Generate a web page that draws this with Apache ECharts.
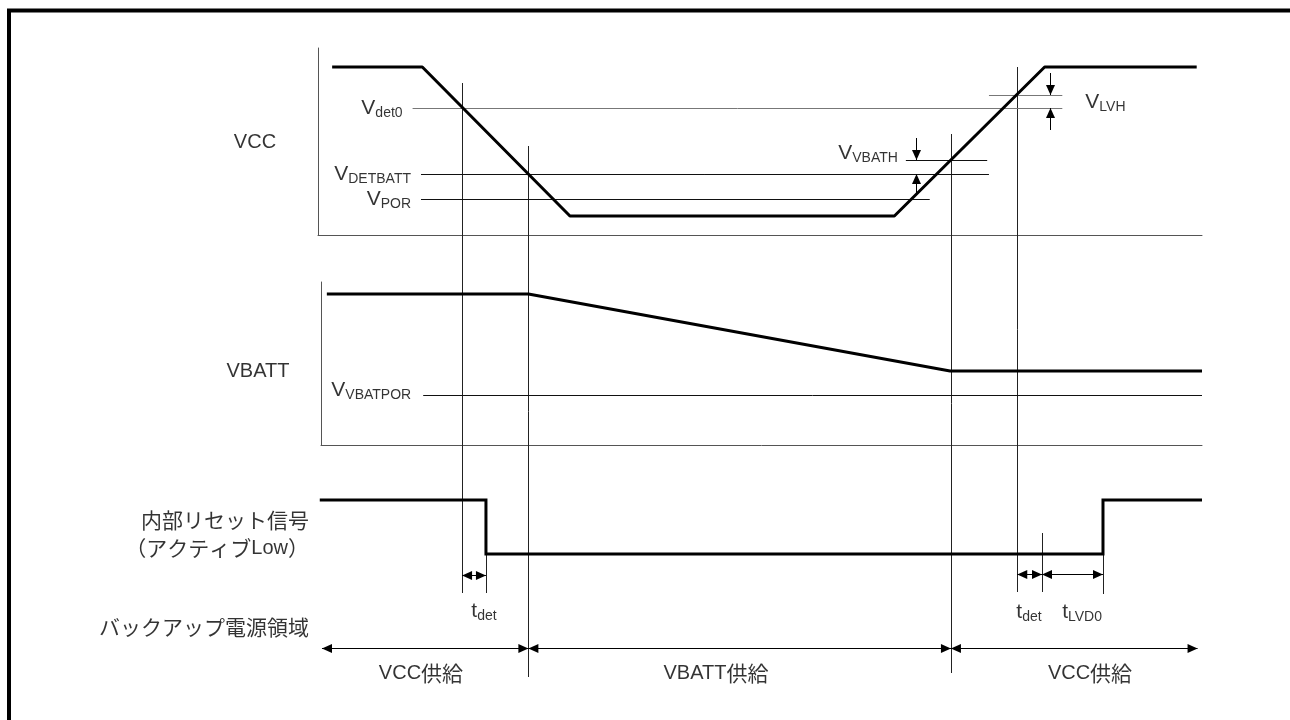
<!DOCTYPE html>
<html><head><meta charset="utf-8">
<script src="https://cdn.jsdelivr.net/npm/echarts@6/dist/echarts.min.js"></script>
<style>html,body{margin:0;padding:0;background:#fff}#c{width:1290px;height:720px}</style>
</head><body><div id="c"></div>
<script>
// ---------------- data (time: arbitrary units 0..100, voltages: arbitrary units) ----------------
const vccWave   = [[1.6,3.36],[11.8,3.36],[28.5,0.38],[65.2,0.38],[82.2,3.36],[99.4,3.36]];
const vbattWave = [[1.0,3.02],[23.8,3.02],[71.5,1.48],[100,1.48]];
const resetWave = [[0.2,1],[19.0,1],[19.0,0],[88.8,0],[88.8,1],[100,1]];

// horizontal threshold levels [tStart, tEnd, level]
const vccLevelsGrey  = [[10.7,84.2,2.54],[75.9,84.2,2.80]];          // Vdet0, Vdet0+VLVH
const vccLevelsBlack = [[11.65,75.9,1.22],[66.5,75.7,1.50],[11.65,69.2,0.72]]; // VDETBATT, +VVBATH, VPOR
const vbattLevels    = [[11.9,100,1.0]];                               // VVBATPOR
// hysteresis arrows [t1, v1, t2, v2] (head at t2,v2)
const vccArrows = [[82.8,3.24,82.8,2.80],[82.8,2.10,82.8,2.54],[67.6,1.94,67.6,1.50],[67.6,0.84,67.6,1.22]];
// level labels [text, t, level]
const vccLevelLabels   = [['V_det0',10.7,2.54],['V_DETBATT',11.65,1.22],['V_POR',11.65,0.72]];
const vbattLevelLabels = [['V_VBATPOR',11.9,1.1]];
const vccRightLabels   = [['V_LVH',86.8,2.66]];
const vccLeftLabels    = [['V_VBATH',65.6,1.64]];

// overlay (time vs diagram row)
const guides = [[16.3,83,593],[23.8,146,677],[71.6,134,673],[79.1,67,592],[19.0,554,593],[81.9,533,592],[88.8,554,594]];
const spanArrows = [[16.3,19.0,575],[79.1,81.9,574],[81.9,88.8,574],[0.45,23.8,648],[23.8,71.6,648],[71.6,99.5,648]];
const signalNames  = [['VCC',-7.13,142],['VBATT',-6.79,371]];
const rowNames     = [['内部リセット信号',-1.02,520],['（アクティブLow）',-1.02,548],['バックアップ電源領域',-1.02,627]];
const centerLabels = [['t_det',18.78,611],['t_det',80.43,612],['t_LVD0',86.43,612],['VCC供給',11.65,673],['VBATT供給',45.02,673],['VCC供給',87.33,673]];

// ---------------- layout ----------------
const FONT = "'Liberation Sans', Arial, Helvetica, sans-serif";
const CJK  = "'Noto Sans CJK JP', 'Noto Sans CJK SC', sans-serif";
const W = 1290, H = 720, PLOT_L = 318, PLOT_R = 1202, T_MAX = 100;
const pxPerT = (PLOT_R - PLOT_L) / T_MAX;
const tAt = px => (px - PLOT_L) / pxPerT;

function fmt(s) {
  const i = s.indexOf('_');
  if (i >= 0) return '{m|' + s.slice(0, i) + '}{s|' + s.slice(i + 1) + '}';
  return s.replace(/([\u3000-\u9fff\uff00-\uffef]+)|([^\u3000-\u9fff\uff00-\uffef]+)/g,
    (m, cj, la) => cj ? '{j|' + cj + '}' : '{p|' + la + '}');
}
const rich = {
  m: {fontFamily: FONT, fontSize: 21, lineHeight: 24, color: '#000'},
  s: {fontFamily: FONT, fontSize: 14, lineHeight: 15, verticalAlign: 'bottom', color: '#000'},
  p: {fontFamily: FONT, fontSize: 20, lineHeight: 24, color: '#000'},
  j: {fontFamily: CJK, fontSize: 21, lineHeight: 24, color: '#000'}
};
const snap = v => Math.round(v) + 0.5;

function hLevel(color) {
  return function (params, api) {
    const a = api.coord([api.value(0), api.value(2)]);
    const b = api.coord([api.value(1), api.value(2)]);
    const y = snap(a[1]);
    return {type: 'line', shape: {x1: a[0], y1: y, x2: b[0], y2: y}, style: {stroke: color, lineWidth: 1}};
  };
}
function vGuide(params, api) {
  const a = api.coord([api.value(0), api.value(1)]);
  const b = api.coord([api.value(0), api.value(2)]);
  const x = snap(a[0]);
  return {type: 'line', shape: {x1: x, y1: a[1], x2: x, y2: b[1]}, style: {stroke: '#222', lineWidth: 1}};
}
function head(tip, from) {
  const dx = tip[0] - from[0], dy = tip[1] - from[1];
  const len = Math.hypot(dx, dy) || 1, ux = dx / len, uy = dy / len, L = 10, HW = 4.5;
  const bx = tip[0] - ux * L, by = tip[1] - uy * L;
  return {type: 'polygon', shape: {points: [[tip[0], tip[1]], [bx - uy * HW, by + ux * HW], [bx + uy * HW, by - ux * HW]]},
    style: {fill: '#000'}};
}
function arrowItem(a, b, both) {
  const vert = Math.abs(a[0] - b[0]) < 0.5;
  if (vert) { a = [snap(a[0]), a[1]]; b = [snap(b[0]), b[1]]; } else { a = [a[0], snap(a[1])]; b = [b[0], snap(b[1])]; }
  const ch = [{type: 'line', shape: {x1: a[0], y1: a[1], x2: b[0], y2: b[1]}, style: {stroke: '#000', lineWidth: 1}}, head(b, a)];
  if (both) ch.push(head(a, b));
  return {type: 'group', children: ch};
}
function singleArrow(params, api) {
  return arrowItem(api.coord([api.value(0), api.value(1)]), api.coord([api.value(2), api.value(3)]), false);
}
function spanArrow(params, api) {
  return arrowItem(api.coord([api.value(0), api.value(2)]), api.coord([api.value(1), api.value(2)]), true);
}
function labelSeries(arr, xi, pos, dist, extra) {
  return Object.assign({
    type: 'scatter', xAxisIndex: xi, yAxisIndex: xi, symbolSize: 0, silent: true, clip: false,
    data: arr.map(d => ({name: d[0], value: [d[1], d[2]]})),
    label: {show: true, position: pos, distance: dist, formatter: p => fmt(p.name), rich: rich}
  }, extra || {});
}
const axisCommon = {axisTick: {show: false}, axisLabel: {show: false}, splitLine: {show: false}};
const axisLineOn = {show: true, onZero: false, lineStyle: {color: '#555', width: 1}};

const chart = echarts.init(document.getElementById('c'), null, {renderer: 'canvas'});
chart.setOption({
  animation: false,
  backgroundColor: '#fff',
  grid: [
    {left: PLOT_L, top: 48, width: PLOT_R - PLOT_L, height: 187},
    {left: 321, top: 282, width: PLOT_R - 321, height: 163},
    {left: PLOT_L, top: 500, width: PLOT_R - PLOT_L, height: 54},
    {left: 0, top: 0, width: W, height: H}
  ],
  xAxis: [
    Object.assign({type: 'value', gridIndex: 0, min: 0, max: T_MAX, axisLine: axisLineOn}, axisCommon),
    Object.assign({type: 'value', gridIndex: 1, min: tAt(321), max: T_MAX, axisLine: axisLineOn}, axisCommon),
    {type: 'value', gridIndex: 2, min: 0, max: T_MAX, show: false},
    {type: 'value', gridIndex: 3, min: tAt(0), max: tAt(W), show: false}
  ],
  yAxis: [
    Object.assign({type: 'value', gridIndex: 0, min: 0, max: 3.74, axisLine: axisLineOn}, axisCommon),
    Object.assign({type: 'value', gridIndex: 1, min: 0, max: 3.26, axisLine: axisLineOn}, axisCommon),
    {type: 'value', gridIndex: 2, min: 0, max: 1, show: false},
    {type: 'value', gridIndex: 3, min: 0, max: H, inverse: true, show: false}
  ],
  graphic: [{
    type: 'polyline', silent: true,
    shape: {points: [[9, H], [9, 10.5], [W, 10.5]]},
    style: {stroke: '#000', lineWidth: 4, fill: null}
  }],
  series: [
    {type: 'custom', xAxisIndex: 3, yAxisIndex: 3, data: guides, renderItem: vGuide, silent: true},
    {type: 'custom', xAxisIndex: 0, yAxisIndex: 0, data: vccLevelsGrey, renderItem: hLevel('#777'), silent: true},
    {type: 'custom', xAxisIndex: 0, yAxisIndex: 0, data: vccLevelsBlack, renderItem: hLevel('#111'), silent: true},
    {type: 'custom', xAxisIndex: 1, yAxisIndex: 1, data: vbattLevels, renderItem: hLevel('#111'), silent: true},
    {type: 'custom', xAxisIndex: 0, yAxisIndex: 0, data: vccArrows, renderItem: singleArrow, silent: true},
    {type: 'custom', xAxisIndex: 3, yAxisIndex: 3, data: spanArrows, renderItem: spanArrow, silent: true},
    {type: 'line', xAxisIndex: 0, yAxisIndex: 0, data: vccWave, symbol: 'none', clip: false, lineStyle: {color: '#000', width: 3}, silent: true},
    {type: 'line', xAxisIndex: 1, yAxisIndex: 1, data: vbattWave, symbol: 'none', clip: false, lineStyle: {color: '#000', width: 3}, silent: true},
    {type: 'line', xAxisIndex: 2, yAxisIndex: 2, data: resetWave, symbol: 'none', clip: false, lineStyle: {color: '#000', width: 3, join: 'miter'}, silent: true},
    labelSeries(vccLevelLabels, 0, 'left', 10),
    labelSeries(vbattLevelLabels, 1, 'left', 12),
    labelSeries(vccRightLabels, 0, 'right', 0),
    labelSeries(vccLeftLabels, 0, 'left', 0),
    labelSeries(signalNames, 3, 'inside', 0),
    labelSeries(rowNames, 3, 'left', 0),
    labelSeries(centerLabels, 3, 'inside', 0)
  ]
});
</script>
</body></html>
